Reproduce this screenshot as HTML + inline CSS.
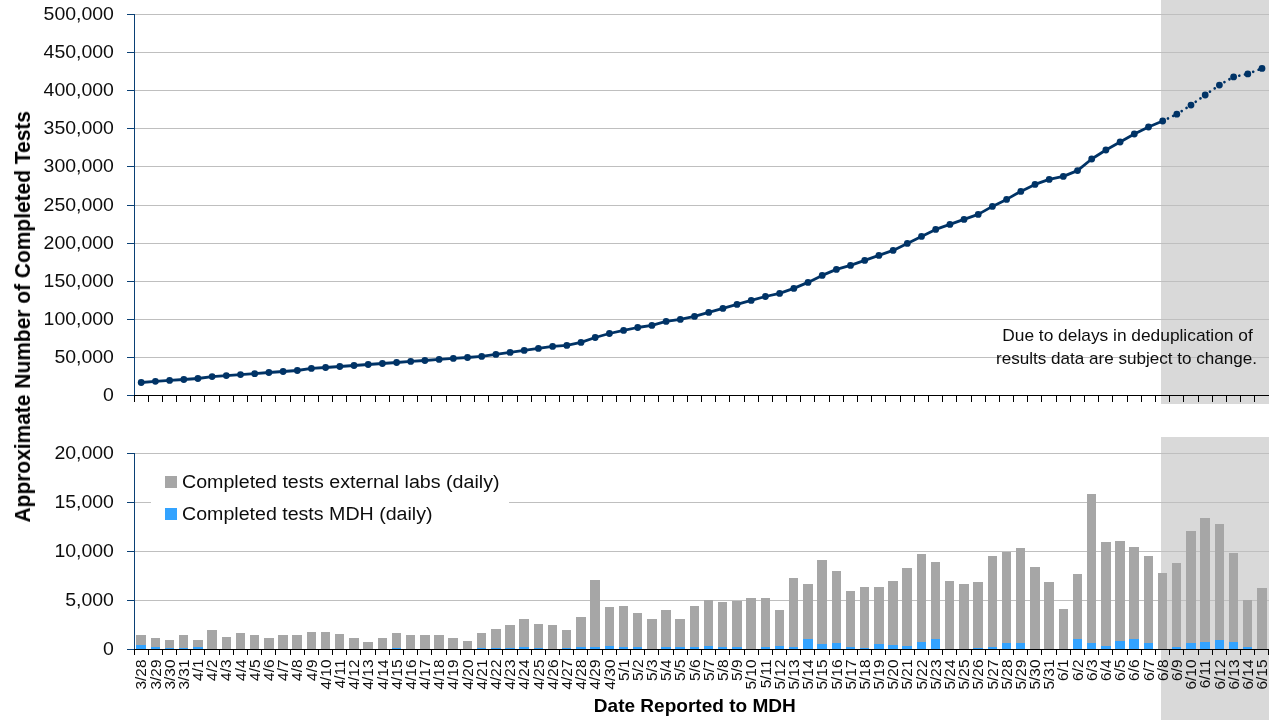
<!DOCTYPE html>
<html lang="en"><head><meta charset="utf-8">
<title>Approximate Number of Completed Tests by Date Reported to MDH</title>
<style>
html,body{margin:0;padding:0;background:#fff;}
body{width:1280px;height:720px;overflow:hidden;}
svg{display:block;}
text{font-family:"Liberation Sans", Arial, sans-serif;fill:#0d0d0d;}
.b{font-weight:bold;fill:#000;}
</style></head><body>
<svg width="1280" height="720" viewBox="0 0 1280 720">
<rect x="0" y="0" width="1280" height="720" fill="#ffffff"/>
<g shape-rendering="crispEdges">
<rect x="1161" y="0" width="108" height="404" fill="#d9d9d9"/>
<rect x="1161" y="437" width="108" height="283" fill="#d9d9d9"/>
<rect x="135" y="357" width="1134" height="1" fill="#bfbfbf"/>
<rect x="135" y="319" width="1134" height="1" fill="#bfbfbf"/>
<rect x="135" y="281" width="1134" height="1" fill="#bfbfbf"/>
<rect x="135" y="243" width="1134" height="1" fill="#bfbfbf"/>
<rect x="135" y="205" width="1134" height="1" fill="#bfbfbf"/>
<rect x="135" y="166" width="1134" height="1" fill="#bfbfbf"/>
<rect x="135" y="128" width="1134" height="1" fill="#bfbfbf"/>
<rect x="135" y="90" width="1134" height="1" fill="#bfbfbf"/>
<rect x="135" y="52" width="1134" height="1" fill="#bfbfbf"/>
<rect x="135" y="14" width="1134" height="1" fill="#bfbfbf"/>
<rect x="135" y="600" width="1134" height="1" fill="#bfbfbf"/>
<rect x="135" y="551" width="1134" height="1" fill="#bfbfbf"/>
<rect x="135" y="502" width="1134" height="1" fill="#bfbfbf"/>
<rect x="135" y="453" width="1134" height="1" fill="#bfbfbf"/>
<rect x="151" y="462" width="358" height="72" fill="#ffffff"/>
<rect x="136" y="635" width="10" height="10" fill="#a6a6a6"/>
<rect x="136" y="645" width="10" height="4" fill="#33a3ff"/>
<rect x="151" y="638" width="9" height="9" fill="#a6a6a6"/>
<rect x="151" y="647" width="9" height="2" fill="#33a3ff"/>
<rect x="165" y="640" width="9" height="8" fill="#a6a6a6"/>
<rect x="165" y="648" width="9" height="1" fill="#33a3ff"/>
<rect x="179" y="635" width="9" height="13" fill="#a6a6a6"/>
<rect x="179" y="648" width="9" height="1" fill="#33a3ff"/>
<rect x="193" y="640" width="10" height="7" fill="#a6a6a6"/>
<rect x="193" y="647" width="10" height="2" fill="#33a3ff"/>
<rect x="207" y="630" width="10" height="19" fill="#a6a6a6"/>
<rect x="222" y="637" width="9" height="12" fill="#a6a6a6"/>
<rect x="236" y="633" width="9" height="16" fill="#a6a6a6"/>
<rect x="250" y="635" width="9" height="14" fill="#a6a6a6"/>
<rect x="264" y="638" width="10" height="11" fill="#a6a6a6"/>
<rect x="278" y="635" width="10" height="14" fill="#a6a6a6"/>
<rect x="292" y="635" width="10" height="14" fill="#a6a6a6"/>
<rect x="307" y="632" width="9" height="17" fill="#a6a6a6"/>
<rect x="321" y="632" width="9" height="17" fill="#a6a6a6"/>
<rect x="335" y="634" width="9" height="15" fill="#a6a6a6"/>
<rect x="349" y="638" width="10" height="11" fill="#a6a6a6"/>
<rect x="363" y="642" width="10" height="7" fill="#a6a6a6"/>
<rect x="378" y="638" width="9" height="11" fill="#a6a6a6"/>
<rect x="392" y="633" width="9" height="15" fill="#a6a6a6"/>
<rect x="392" y="648" width="9" height="1" fill="#33a3ff"/>
<rect x="406" y="635" width="9" height="14" fill="#a6a6a6"/>
<rect x="420" y="635" width="10" height="14" fill="#a6a6a6"/>
<rect x="434" y="635" width="10" height="14" fill="#a6a6a6"/>
<rect x="448" y="638" width="10" height="11" fill="#a6a6a6"/>
<rect x="463" y="641" width="9" height="8" fill="#a6a6a6"/>
<rect x="477" y="633" width="9" height="15" fill="#a6a6a6"/>
<rect x="477" y="648" width="9" height="1" fill="#33a3ff"/>
<rect x="491" y="629" width="10" height="19" fill="#a6a6a6"/>
<rect x="491" y="648" width="10" height="1" fill="#33a3ff"/>
<rect x="505" y="625" width="10" height="23" fill="#a6a6a6"/>
<rect x="505" y="648" width="10" height="1" fill="#33a3ff"/>
<rect x="519" y="619" width="10" height="28" fill="#a6a6a6"/>
<rect x="519" y="647" width="10" height="2" fill="#33a3ff"/>
<rect x="534" y="624" width="9" height="24" fill="#a6a6a6"/>
<rect x="534" y="648" width="9" height="1" fill="#33a3ff"/>
<rect x="548" y="625" width="9" height="24" fill="#a6a6a6"/>
<rect x="562" y="630" width="9" height="18" fill="#a6a6a6"/>
<rect x="562" y="648" width="9" height="1" fill="#33a3ff"/>
<rect x="576" y="617" width="10" height="30" fill="#a6a6a6"/>
<rect x="576" y="647" width="10" height="2" fill="#33a3ff"/>
<rect x="590" y="580" width="10" height="67" fill="#a6a6a6"/>
<rect x="590" y="647" width="10" height="2" fill="#33a3ff"/>
<rect x="605" y="607" width="9" height="39" fill="#a6a6a6"/>
<rect x="605" y="646" width="9" height="3" fill="#33a3ff"/>
<rect x="619" y="606" width="9" height="41" fill="#a6a6a6"/>
<rect x="619" y="647" width="9" height="2" fill="#33a3ff"/>
<rect x="633" y="613" width="9" height="34" fill="#a6a6a6"/>
<rect x="633" y="647" width="9" height="2" fill="#33a3ff"/>
<rect x="647" y="619" width="10" height="30" fill="#a6a6a6"/>
<rect x="661" y="610" width="10" height="37" fill="#a6a6a6"/>
<rect x="661" y="647" width="10" height="2" fill="#33a3ff"/>
<rect x="675" y="619" width="10" height="28" fill="#a6a6a6"/>
<rect x="675" y="647" width="10" height="2" fill="#33a3ff"/>
<rect x="690" y="606" width="9" height="41" fill="#a6a6a6"/>
<rect x="690" y="647" width="9" height="2" fill="#33a3ff"/>
<rect x="704" y="600" width="9" height="46" fill="#a6a6a6"/>
<rect x="704" y="646" width="9" height="3" fill="#33a3ff"/>
<rect x="718" y="602" width="9" height="45" fill="#a6a6a6"/>
<rect x="718" y="647" width="9" height="2" fill="#33a3ff"/>
<rect x="732" y="601" width="10" height="46" fill="#a6a6a6"/>
<rect x="732" y="647" width="10" height="2" fill="#33a3ff"/>
<rect x="746" y="598" width="10" height="51" fill="#a6a6a6"/>
<rect x="761" y="598" width="9" height="49" fill="#a6a6a6"/>
<rect x="761" y="647" width="9" height="2" fill="#33a3ff"/>
<rect x="775" y="610" width="9" height="36" fill="#a6a6a6"/>
<rect x="775" y="646" width="9" height="3" fill="#33a3ff"/>
<rect x="789" y="578" width="9" height="69" fill="#a6a6a6"/>
<rect x="789" y="647" width="9" height="2" fill="#33a3ff"/>
<rect x="803" y="584" width="10" height="55" fill="#a6a6a6"/>
<rect x="803" y="639" width="10" height="10" fill="#33a3ff"/>
<rect x="817" y="560" width="10" height="84" fill="#a6a6a6"/>
<rect x="817" y="644" width="10" height="5" fill="#33a3ff"/>
<rect x="832" y="571" width="9" height="72" fill="#a6a6a6"/>
<rect x="832" y="643" width="9" height="6" fill="#33a3ff"/>
<rect x="846" y="591" width="9" height="56" fill="#a6a6a6"/>
<rect x="846" y="647" width="9" height="2" fill="#33a3ff"/>
<rect x="860" y="587" width="9" height="61" fill="#a6a6a6"/>
<rect x="860" y="648" width="9" height="1" fill="#33a3ff"/>
<rect x="874" y="587" width="10" height="57" fill="#a6a6a6"/>
<rect x="874" y="644" width="10" height="5" fill="#33a3ff"/>
<rect x="888" y="581" width="10" height="64" fill="#a6a6a6"/>
<rect x="888" y="645" width="10" height="4" fill="#33a3ff"/>
<rect x="902" y="568" width="10" height="78" fill="#a6a6a6"/>
<rect x="902" y="646" width="10" height="3" fill="#33a3ff"/>
<rect x="917" y="554" width="9" height="88" fill="#a6a6a6"/>
<rect x="917" y="642" width="9" height="7" fill="#33a3ff"/>
<rect x="931" y="562" width="9" height="77" fill="#a6a6a6"/>
<rect x="931" y="639" width="9" height="10" fill="#33a3ff"/>
<rect x="945" y="581" width="9" height="68" fill="#a6a6a6"/>
<rect x="959" y="584" width="10" height="65" fill="#a6a6a6"/>
<rect x="973" y="582" width="10" height="66" fill="#a6a6a6"/>
<rect x="973" y="648" width="10" height="1" fill="#33a3ff"/>
<rect x="988" y="556" width="9" height="91" fill="#a6a6a6"/>
<rect x="988" y="647" width="9" height="2" fill="#33a3ff"/>
<rect x="1002" y="552" width="9" height="91" fill="#a6a6a6"/>
<rect x="1002" y="643" width="9" height="6" fill="#33a3ff"/>
<rect x="1016" y="548" width="9" height="95" fill="#a6a6a6"/>
<rect x="1016" y="643" width="9" height="6" fill="#33a3ff"/>
<rect x="1030" y="567" width="10" height="82" fill="#a6a6a6"/>
<rect x="1044" y="582" width="10" height="67" fill="#a6a6a6"/>
<rect x="1059" y="609" width="9" height="40" fill="#a6a6a6"/>
<rect x="1073" y="574" width="9" height="65" fill="#a6a6a6"/>
<rect x="1073" y="639" width="9" height="10" fill="#33a3ff"/>
<rect x="1087" y="494" width="9" height="149" fill="#a6a6a6"/>
<rect x="1087" y="643" width="9" height="6" fill="#33a3ff"/>
<rect x="1101" y="542" width="10" height="104" fill="#a6a6a6"/>
<rect x="1101" y="646" width="10" height="3" fill="#33a3ff"/>
<rect x="1115" y="541" width="10" height="100" fill="#a6a6a6"/>
<rect x="1115" y="641" width="10" height="8" fill="#33a3ff"/>
<rect x="1129" y="547" width="10" height="92" fill="#a6a6a6"/>
<rect x="1129" y="639" width="10" height="10" fill="#33a3ff"/>
<rect x="1144" y="556" width="9" height="87" fill="#a6a6a6"/>
<rect x="1144" y="643" width="9" height="6" fill="#33a3ff"/>
<rect x="1158" y="573" width="9" height="76" fill="#a6a6a6"/>
<rect x="1172" y="563" width="9" height="84" fill="#a6a6a6"/>
<rect x="1172" y="647" width="9" height="2" fill="#33a3ff"/>
<rect x="1186" y="531" width="10" height="112" fill="#a6a6a6"/>
<rect x="1186" y="643" width="10" height="6" fill="#33a3ff"/>
<rect x="1200" y="518" width="10" height="124" fill="#a6a6a6"/>
<rect x="1200" y="642" width="10" height="7" fill="#33a3ff"/>
<rect x="1215" y="524" width="9" height="116" fill="#a6a6a6"/>
<rect x="1215" y="640" width="9" height="9" fill="#33a3ff"/>
<rect x="1229" y="553" width="9" height="89" fill="#a6a6a6"/>
<rect x="1229" y="642" width="9" height="7" fill="#33a3ff"/>
<rect x="1243" y="600" width="9" height="47" fill="#a6a6a6"/>
<rect x="1243" y="647" width="9" height="2" fill="#33a3ff"/>
<rect x="1257" y="588" width="10" height="61" fill="#a6a6a6"/>
<rect x="165" y="476" width="12" height="12" fill="#a6a6a6"/>
<rect x="165" y="508" width="12" height="12" fill="#33a3ff"/>
<rect x="134" y="14" width="1" height="382" fill="#0a4075"/>
<rect x="127" y="395" width="8" height="1" fill="#0a4075"/>
<rect x="127" y="357" width="8" height="1" fill="#0a4075"/>
<rect x="127" y="319" width="8" height="1" fill="#0a4075"/>
<rect x="127" y="281" width="8" height="1" fill="#0a4075"/>
<rect x="127" y="243" width="8" height="1" fill="#0a4075"/>
<rect x="127" y="205" width="8" height="1" fill="#0a4075"/>
<rect x="127" y="166" width="8" height="1" fill="#0a4075"/>
<rect x="127" y="128" width="8" height="1" fill="#0a4075"/>
<rect x="127" y="90" width="8" height="1" fill="#0a4075"/>
<rect x="127" y="52" width="8" height="1" fill="#0a4075"/>
<rect x="127" y="14" width="8" height="1" fill="#0a4075"/>
<rect x="134" y="453" width="1" height="197" fill="#0a4075"/>
<rect x="127" y="649" width="8" height="1" fill="#0a4075"/>
<rect x="127" y="600" width="8" height="1" fill="#0a4075"/>
<rect x="127" y="551" width="8" height="1" fill="#0a4075"/>
<rect x="127" y="502" width="8" height="1" fill="#0a4075"/>
<rect x="127" y="453" width="8" height="1" fill="#0a4075"/>
<rect x="134" y="395" width="1135" height="1" fill="#000"/>
<rect x="134" y="649" width="1135" height="1" fill="#000"/>
<rect x="134" y="396" width="1" height="6" fill="#000"/>
<rect x="134" y="650" width="1" height="5" fill="#000"/>
<rect x="148" y="396" width="1" height="6" fill="#000"/>
<rect x="148" y="650" width="1" height="5" fill="#000"/>
<rect x="162" y="396" width="1" height="6" fill="#000"/>
<rect x="162" y="650" width="1" height="5" fill="#000"/>
<rect x="176" y="396" width="1" height="6" fill="#000"/>
<rect x="176" y="650" width="1" height="5" fill="#000"/>
<rect x="190" y="396" width="1" height="6" fill="#000"/>
<rect x="190" y="650" width="1" height="5" fill="#000"/>
<rect x="204" y="396" width="1" height="6" fill="#000"/>
<rect x="204" y="650" width="1" height="5" fill="#000"/>
<rect x="219" y="396" width="1" height="6" fill="#000"/>
<rect x="219" y="650" width="1" height="5" fill="#000"/>
<rect x="233" y="396" width="1" height="6" fill="#000"/>
<rect x="233" y="650" width="1" height="5" fill="#000"/>
<rect x="247" y="396" width="1" height="6" fill="#000"/>
<rect x="247" y="650" width="1" height="5" fill="#000"/>
<rect x="261" y="396" width="1" height="6" fill="#000"/>
<rect x="261" y="650" width="1" height="5" fill="#000"/>
<rect x="275" y="396" width="1" height="6" fill="#000"/>
<rect x="275" y="650" width="1" height="5" fill="#000"/>
<rect x="290" y="396" width="1" height="6" fill="#000"/>
<rect x="290" y="650" width="1" height="5" fill="#000"/>
<rect x="304" y="396" width="1" height="6" fill="#000"/>
<rect x="304" y="650" width="1" height="5" fill="#000"/>
<rect x="318" y="396" width="1" height="6" fill="#000"/>
<rect x="318" y="650" width="1" height="5" fill="#000"/>
<rect x="332" y="396" width="1" height="6" fill="#000"/>
<rect x="332" y="650" width="1" height="5" fill="#000"/>
<rect x="346" y="396" width="1" height="6" fill="#000"/>
<rect x="346" y="650" width="1" height="5" fill="#000"/>
<rect x="360" y="396" width="1" height="6" fill="#000"/>
<rect x="360" y="650" width="1" height="5" fill="#000"/>
<rect x="375" y="396" width="1" height="6" fill="#000"/>
<rect x="375" y="650" width="1" height="5" fill="#000"/>
<rect x="389" y="396" width="1" height="6" fill="#000"/>
<rect x="389" y="650" width="1" height="5" fill="#000"/>
<rect x="403" y="396" width="1" height="6" fill="#000"/>
<rect x="403" y="650" width="1" height="5" fill="#000"/>
<rect x="417" y="396" width="1" height="6" fill="#000"/>
<rect x="417" y="650" width="1" height="5" fill="#000"/>
<rect x="431" y="396" width="1" height="6" fill="#000"/>
<rect x="431" y="650" width="1" height="5" fill="#000"/>
<rect x="446" y="396" width="1" height="6" fill="#000"/>
<rect x="446" y="650" width="1" height="5" fill="#000"/>
<rect x="460" y="396" width="1" height="6" fill="#000"/>
<rect x="460" y="650" width="1" height="5" fill="#000"/>
<rect x="474" y="396" width="1" height="6" fill="#000"/>
<rect x="474" y="650" width="1" height="5" fill="#000"/>
<rect x="488" y="396" width="1" height="6" fill="#000"/>
<rect x="488" y="650" width="1" height="5" fill="#000"/>
<rect x="502" y="396" width="1" height="6" fill="#000"/>
<rect x="502" y="650" width="1" height="5" fill="#000"/>
<rect x="517" y="396" width="1" height="6" fill="#000"/>
<rect x="517" y="650" width="1" height="5" fill="#000"/>
<rect x="531" y="396" width="1" height="6" fill="#000"/>
<rect x="531" y="650" width="1" height="5" fill="#000"/>
<rect x="545" y="396" width="1" height="6" fill="#000"/>
<rect x="545" y="650" width="1" height="5" fill="#000"/>
<rect x="559" y="396" width="1" height="6" fill="#000"/>
<rect x="559" y="650" width="1" height="5" fill="#000"/>
<rect x="573" y="396" width="1" height="6" fill="#000"/>
<rect x="573" y="650" width="1" height="5" fill="#000"/>
<rect x="587" y="396" width="1" height="6" fill="#000"/>
<rect x="587" y="650" width="1" height="5" fill="#000"/>
<rect x="602" y="396" width="1" height="6" fill="#000"/>
<rect x="602" y="650" width="1" height="5" fill="#000"/>
<rect x="616" y="396" width="1" height="6" fill="#000"/>
<rect x="616" y="650" width="1" height="5" fill="#000"/>
<rect x="630" y="396" width="1" height="6" fill="#000"/>
<rect x="630" y="650" width="1" height="5" fill="#000"/>
<rect x="644" y="396" width="1" height="6" fill="#000"/>
<rect x="644" y="650" width="1" height="5" fill="#000"/>
<rect x="658" y="396" width="1" height="6" fill="#000"/>
<rect x="658" y="650" width="1" height="5" fill="#000"/>
<rect x="673" y="396" width="1" height="6" fill="#000"/>
<rect x="673" y="650" width="1" height="5" fill="#000"/>
<rect x="687" y="396" width="1" height="6" fill="#000"/>
<rect x="687" y="650" width="1" height="5" fill="#000"/>
<rect x="701" y="396" width="1" height="6" fill="#000"/>
<rect x="701" y="650" width="1" height="5" fill="#000"/>
<rect x="715" y="396" width="1" height="6" fill="#000"/>
<rect x="715" y="650" width="1" height="5" fill="#000"/>
<rect x="729" y="396" width="1" height="6" fill="#000"/>
<rect x="729" y="650" width="1" height="5" fill="#000"/>
<rect x="744" y="396" width="1" height="6" fill="#000"/>
<rect x="744" y="650" width="1" height="5" fill="#000"/>
<rect x="758" y="396" width="1" height="6" fill="#000"/>
<rect x="758" y="650" width="1" height="5" fill="#000"/>
<rect x="772" y="396" width="1" height="6" fill="#000"/>
<rect x="772" y="650" width="1" height="5" fill="#000"/>
<rect x="786" y="396" width="1" height="6" fill="#000"/>
<rect x="786" y="650" width="1" height="5" fill="#000"/>
<rect x="800" y="396" width="1" height="6" fill="#000"/>
<rect x="800" y="650" width="1" height="5" fill="#000"/>
<rect x="814" y="396" width="1" height="6" fill="#000"/>
<rect x="814" y="650" width="1" height="5" fill="#000"/>
<rect x="829" y="396" width="1" height="6" fill="#000"/>
<rect x="829" y="650" width="1" height="5" fill="#000"/>
<rect x="843" y="396" width="1" height="6" fill="#000"/>
<rect x="843" y="650" width="1" height="5" fill="#000"/>
<rect x="857" y="396" width="1" height="6" fill="#000"/>
<rect x="857" y="650" width="1" height="5" fill="#000"/>
<rect x="871" y="396" width="1" height="6" fill="#000"/>
<rect x="871" y="650" width="1" height="5" fill="#000"/>
<rect x="885" y="396" width="1" height="6" fill="#000"/>
<rect x="885" y="650" width="1" height="5" fill="#000"/>
<rect x="900" y="396" width="1" height="6" fill="#000"/>
<rect x="900" y="650" width="1" height="5" fill="#000"/>
<rect x="914" y="396" width="1" height="6" fill="#000"/>
<rect x="914" y="650" width="1" height="5" fill="#000"/>
<rect x="928" y="396" width="1" height="6" fill="#000"/>
<rect x="928" y="650" width="1" height="5" fill="#000"/>
<rect x="942" y="396" width="1" height="6" fill="#000"/>
<rect x="942" y="650" width="1" height="5" fill="#000"/>
<rect x="956" y="396" width="1" height="6" fill="#000"/>
<rect x="956" y="650" width="1" height="5" fill="#000"/>
<rect x="971" y="396" width="1" height="6" fill="#000"/>
<rect x="971" y="650" width="1" height="5" fill="#000"/>
<rect x="985" y="396" width="1" height="6" fill="#000"/>
<rect x="985" y="650" width="1" height="5" fill="#000"/>
<rect x="999" y="396" width="1" height="6" fill="#000"/>
<rect x="999" y="650" width="1" height="5" fill="#000"/>
<rect x="1013" y="396" width="1" height="6" fill="#000"/>
<rect x="1013" y="650" width="1" height="5" fill="#000"/>
<rect x="1027" y="396" width="1" height="6" fill="#000"/>
<rect x="1027" y="650" width="1" height="5" fill="#000"/>
<rect x="1041" y="396" width="1" height="6" fill="#000"/>
<rect x="1041" y="650" width="1" height="5" fill="#000"/>
<rect x="1056" y="396" width="1" height="6" fill="#000"/>
<rect x="1056" y="650" width="1" height="5" fill="#000"/>
<rect x="1070" y="396" width="1" height="6" fill="#000"/>
<rect x="1070" y="650" width="1" height="5" fill="#000"/>
<rect x="1084" y="396" width="1" height="6" fill="#000"/>
<rect x="1084" y="650" width="1" height="5" fill="#000"/>
<rect x="1098" y="396" width="1" height="6" fill="#000"/>
<rect x="1098" y="650" width="1" height="5" fill="#000"/>
<rect x="1112" y="396" width="1" height="6" fill="#000"/>
<rect x="1112" y="650" width="1" height="5" fill="#000"/>
<rect x="1127" y="396" width="1" height="6" fill="#000"/>
<rect x="1127" y="650" width="1" height="5" fill="#000"/>
<rect x="1141" y="396" width="1" height="6" fill="#000"/>
<rect x="1141" y="650" width="1" height="5" fill="#000"/>
<rect x="1155" y="396" width="1" height="6" fill="#000"/>
<rect x="1155" y="650" width="1" height="5" fill="#000"/>
<rect x="1169" y="396" width="1" height="6" fill="#000"/>
<rect x="1169" y="650" width="1" height="5" fill="#000"/>
<rect x="1183" y="396" width="1" height="6" fill="#000"/>
<rect x="1183" y="650" width="1" height="5" fill="#000"/>
<rect x="1198" y="396" width="1" height="6" fill="#000"/>
<rect x="1198" y="650" width="1" height="5" fill="#000"/>
<rect x="1212" y="396" width="1" height="6" fill="#000"/>
<rect x="1212" y="650" width="1" height="5" fill="#000"/>
<rect x="1226" y="396" width="1" height="6" fill="#000"/>
<rect x="1226" y="650" width="1" height="5" fill="#000"/>
<rect x="1240" y="396" width="1" height="6" fill="#000"/>
<rect x="1240" y="650" width="1" height="5" fill="#000"/>
<rect x="1254" y="396" width="1" height="6" fill="#000"/>
<rect x="1254" y="650" width="1" height="5" fill="#000"/>
<rect x="1268" y="650" width="1" height="5" fill="#000"/>
</g>
<polyline points="141.2,382.5 155.4,381.3 169.6,380.4 183.8,379.5 197.9,378.5 212.1,376.6 226.3,375.6 240.5,374.6 254.7,373.7 268.9,372.5 283.1,371.5 297.3,370.5 311.4,368.4 325.6,367.5 339.8,366.5 354.0,365.5 368.2,364.5 382.4,363.5 396.6,362.5 410.7,361.4 424.9,360.5 439.1,359.4 453.3,358.4 467.5,357.5 481.7,356.4 495.9,354.4 510.1,352.4 524.2,350.4 538.4,348.4 552.6,346.4 566.8,345.4 581.0,342.4 595.2,337.5 609.4,333.5 623.6,330.4 637.7,327.5 651.9,325.4 666.1,321.4 680.3,319.4 694.5,316.4 708.7,312.4 722.9,308.4 737.0,304.4 751.2,300.4 765.4,296.5 779.6,293.4 793.8,288.4 808.0,282.4 822.2,275.4 836.4,269.4 850.5,265.4 864.7,260.4 878.9,255.4 893.1,250.4 907.3,243.4 921.5,236.4 935.7,229.4 949.9,224.4 964.0,219.4 978.2,214.4 992.4,206.4 1006.6,199.4 1020.8,191.4 1035.0,184.4 1049.2,179.4 1063.3,176.4 1077.5,170.6 1091.7,159.0 1105.9,150.0 1120.1,142.0 1134.3,134.0 1148.5,127.0 1162.7,121.0" fill="none" stroke="#003366" stroke-width="2.8" stroke-linejoin="round" stroke-linecap="round"/>
<line x1="1162.7" y1="121.0" x2="1176.8" y2="114.2" stroke="#003366" stroke-width="2.7" stroke-linecap="round" stroke-dasharray="0.01 5.8"/>
<line x1="1176.8" y1="114.2" x2="1191.0" y2="105.1" stroke="#003366" stroke-width="2.7" stroke-linecap="round" stroke-dasharray="0.01 5.8"/>
<line x1="1191.0" y1="105.1" x2="1205.2" y2="95.0" stroke="#003366" stroke-width="2.7" stroke-linecap="round" stroke-dasharray="0.01 5.8"/>
<line x1="1205.2" y1="95.0" x2="1219.4" y2="85.1" stroke="#003366" stroke-width="2.7" stroke-linecap="round" stroke-dasharray="0.01 5.8"/>
<line x1="1219.4" y1="85.1" x2="1233.6" y2="76.9" stroke="#003366" stroke-width="2.7" stroke-linecap="round" stroke-dasharray="0.01 5.8"/>
<line x1="1233.6" y1="76.9" x2="1247.8" y2="73.9" stroke="#003366" stroke-width="2.7" stroke-linecap="round" stroke-dasharray="0.01 5.8"/>
<line x1="1247.8" y1="73.9" x2="1262.0" y2="68.4" stroke="#003366" stroke-width="2.7" stroke-linecap="round" stroke-dasharray="0.01 5.8"/>
<circle cx="141.2" cy="382.5" r="3.4" fill="#003366"/>
<circle cx="155.4" cy="381.3" r="3.4" fill="#003366"/>
<circle cx="169.6" cy="380.4" r="3.4" fill="#003366"/>
<circle cx="183.8" cy="379.5" r="3.4" fill="#003366"/>
<circle cx="197.9" cy="378.5" r="3.4" fill="#003366"/>
<circle cx="212.1" cy="376.6" r="3.4" fill="#003366"/>
<circle cx="226.3" cy="375.6" r="3.4" fill="#003366"/>
<circle cx="240.5" cy="374.6" r="3.4" fill="#003366"/>
<circle cx="254.7" cy="373.7" r="3.4" fill="#003366"/>
<circle cx="268.9" cy="372.5" r="3.4" fill="#003366"/>
<circle cx="283.1" cy="371.5" r="3.4" fill="#003366"/>
<circle cx="297.3" cy="370.5" r="3.4" fill="#003366"/>
<circle cx="311.4" cy="368.4" r="3.4" fill="#003366"/>
<circle cx="325.6" cy="367.5" r="3.4" fill="#003366"/>
<circle cx="339.8" cy="366.5" r="3.4" fill="#003366"/>
<circle cx="354.0" cy="365.5" r="3.4" fill="#003366"/>
<circle cx="368.2" cy="364.5" r="3.4" fill="#003366"/>
<circle cx="382.4" cy="363.5" r="3.4" fill="#003366"/>
<circle cx="396.6" cy="362.5" r="3.4" fill="#003366"/>
<circle cx="410.7" cy="361.4" r="3.4" fill="#003366"/>
<circle cx="424.9" cy="360.5" r="3.4" fill="#003366"/>
<circle cx="439.1" cy="359.4" r="3.4" fill="#003366"/>
<circle cx="453.3" cy="358.4" r="3.4" fill="#003366"/>
<circle cx="467.5" cy="357.5" r="3.4" fill="#003366"/>
<circle cx="481.7" cy="356.4" r="3.4" fill="#003366"/>
<circle cx="495.9" cy="354.4" r="3.4" fill="#003366"/>
<circle cx="510.1" cy="352.4" r="3.4" fill="#003366"/>
<circle cx="524.2" cy="350.4" r="3.4" fill="#003366"/>
<circle cx="538.4" cy="348.4" r="3.4" fill="#003366"/>
<circle cx="552.6" cy="346.4" r="3.4" fill="#003366"/>
<circle cx="566.8" cy="345.4" r="3.4" fill="#003366"/>
<circle cx="581.0" cy="342.4" r="3.4" fill="#003366"/>
<circle cx="595.2" cy="337.5" r="3.4" fill="#003366"/>
<circle cx="609.4" cy="333.5" r="3.4" fill="#003366"/>
<circle cx="623.6" cy="330.4" r="3.4" fill="#003366"/>
<circle cx="637.7" cy="327.5" r="3.4" fill="#003366"/>
<circle cx="651.9" cy="325.4" r="3.4" fill="#003366"/>
<circle cx="666.1" cy="321.4" r="3.4" fill="#003366"/>
<circle cx="680.3" cy="319.4" r="3.4" fill="#003366"/>
<circle cx="694.5" cy="316.4" r="3.4" fill="#003366"/>
<circle cx="708.7" cy="312.4" r="3.4" fill="#003366"/>
<circle cx="722.9" cy="308.4" r="3.4" fill="#003366"/>
<circle cx="737.0" cy="304.4" r="3.4" fill="#003366"/>
<circle cx="751.2" cy="300.4" r="3.4" fill="#003366"/>
<circle cx="765.4" cy="296.5" r="3.4" fill="#003366"/>
<circle cx="779.6" cy="293.4" r="3.4" fill="#003366"/>
<circle cx="793.8" cy="288.4" r="3.4" fill="#003366"/>
<circle cx="808.0" cy="282.4" r="3.4" fill="#003366"/>
<circle cx="822.2" cy="275.4" r="3.4" fill="#003366"/>
<circle cx="836.4" cy="269.4" r="3.4" fill="#003366"/>
<circle cx="850.5" cy="265.4" r="3.4" fill="#003366"/>
<circle cx="864.7" cy="260.4" r="3.4" fill="#003366"/>
<circle cx="878.9" cy="255.4" r="3.4" fill="#003366"/>
<circle cx="893.1" cy="250.4" r="3.4" fill="#003366"/>
<circle cx="907.3" cy="243.4" r="3.4" fill="#003366"/>
<circle cx="921.5" cy="236.4" r="3.4" fill="#003366"/>
<circle cx="935.7" cy="229.4" r="3.4" fill="#003366"/>
<circle cx="949.9" cy="224.4" r="3.4" fill="#003366"/>
<circle cx="964.0" cy="219.4" r="3.4" fill="#003366"/>
<circle cx="978.2" cy="214.4" r="3.4" fill="#003366"/>
<circle cx="992.4" cy="206.4" r="3.4" fill="#003366"/>
<circle cx="1006.6" cy="199.4" r="3.4" fill="#003366"/>
<circle cx="1020.8" cy="191.4" r="3.4" fill="#003366"/>
<circle cx="1035.0" cy="184.4" r="3.4" fill="#003366"/>
<circle cx="1049.2" cy="179.4" r="3.4" fill="#003366"/>
<circle cx="1063.3" cy="176.4" r="3.4" fill="#003366"/>
<circle cx="1077.5" cy="170.6" r="3.4" fill="#003366"/>
<circle cx="1091.7" cy="159.0" r="3.4" fill="#003366"/>
<circle cx="1105.9" cy="150.0" r="3.4" fill="#003366"/>
<circle cx="1120.1" cy="142.0" r="3.4" fill="#003366"/>
<circle cx="1134.3" cy="134.0" r="3.4" fill="#003366"/>
<circle cx="1148.5" cy="127.0" r="3.4" fill="#003366"/>
<circle cx="1162.7" cy="121.0" r="3.4" fill="#003366"/>
<circle cx="1176.8" cy="114.2" r="3.4" fill="#003366"/>
<circle cx="1191.0" cy="105.1" r="3.4" fill="#003366"/>
<circle cx="1205.2" cy="95.0" r="3.4" fill="#003366"/>
<circle cx="1219.4" cy="85.1" r="3.4" fill="#003366"/>
<circle cx="1233.6" cy="76.9" r="3.4" fill="#003366"/>
<circle cx="1247.8" cy="73.9" r="3.4" fill="#003366"/>
<circle cx="1262.0" cy="68.4" r="3.4" fill="#003366"/>
<g opacity="0.999">
<text transform="translate(113.9,401.4) scale(1.025,1)" font-size="19" text-anchor="end">0</text>
<text transform="translate(113.9,363.4) scale(1.025,1)" font-size="19" text-anchor="end">50,000</text>
<text transform="translate(113.9,325.4) scale(1.025,1)" font-size="19" text-anchor="end">100,000</text>
<text transform="translate(113.9,287.4) scale(1.025,1)" font-size="19" text-anchor="end">150,000</text>
<text transform="translate(113.9,249.4) scale(1.025,1)" font-size="19" text-anchor="end">200,000</text>
<text transform="translate(113.9,211.4) scale(1.025,1)" font-size="19" text-anchor="end">250,000</text>
<text transform="translate(113.9,172.4) scale(1.025,1)" font-size="19" text-anchor="end">300,000</text>
<text transform="translate(113.9,134.4) scale(1.025,1)" font-size="19" text-anchor="end">350,000</text>
<text transform="translate(113.9,96.4) scale(1.025,1)" font-size="19" text-anchor="end">400,000</text>
<text transform="translate(113.9,58.4) scale(1.025,1)" font-size="19" text-anchor="end">450,000</text>
<text transform="translate(113.9,20.4) scale(1.025,1)" font-size="19" text-anchor="end">500,000</text>
<text transform="translate(113.9,655.4) scale(1.025,1)" font-size="19" text-anchor="end">0</text>
<text transform="translate(113.9,606.4) scale(1.025,1)" font-size="19" text-anchor="end">5,000</text>
<text transform="translate(113.9,557.4) scale(1.025,1)" font-size="19" text-anchor="end">10,000</text>
<text transform="translate(113.9,508.4) scale(1.025,1)" font-size="19" text-anchor="end">15,000</text>
<text transform="translate(113.9,459.4) scale(1.025,1)" font-size="19" text-anchor="end">20,000</text>
<text transform="translate(146.3,659.5) rotate(-90) scale(1.07,1)" font-size="14.4" text-anchor="end">3/28</text>
<text transform="translate(160.5,659.5) rotate(-90) scale(1.07,1)" font-size="14.4" text-anchor="end">3/29</text>
<text transform="translate(174.7,659.5) rotate(-90) scale(1.07,1)" font-size="14.4" text-anchor="end">3/30</text>
<text transform="translate(188.9,659.5) rotate(-90) scale(1.07,1)" font-size="14.4" text-anchor="end">3/31</text>
<text transform="translate(203.0,659.5) rotate(-90) scale(1.07,1)" font-size="14.4" text-anchor="end">4/1</text>
<text transform="translate(217.2,659.5) rotate(-90) scale(1.07,1)" font-size="14.4" text-anchor="end">4/2</text>
<text transform="translate(231.4,659.5) rotate(-90) scale(1.07,1)" font-size="14.4" text-anchor="end">4/3</text>
<text transform="translate(245.6,659.5) rotate(-90) scale(1.07,1)" font-size="14.4" text-anchor="end">4/4</text>
<text transform="translate(259.8,659.5) rotate(-90) scale(1.07,1)" font-size="14.4" text-anchor="end">4/5</text>
<text transform="translate(274.0,659.5) rotate(-90) scale(1.07,1)" font-size="14.4" text-anchor="end">4/6</text>
<text transform="translate(288.2,659.5) rotate(-90) scale(1.07,1)" font-size="14.4" text-anchor="end">4/7</text>
<text transform="translate(302.4,659.5) rotate(-90) scale(1.07,1)" font-size="14.4" text-anchor="end">4/8</text>
<text transform="translate(316.5,659.5) rotate(-90) scale(1.07,1)" font-size="14.4" text-anchor="end">4/9</text>
<text transform="translate(330.7,659.5) rotate(-90) scale(1.07,1)" font-size="14.4" text-anchor="end">4/10</text>
<text transform="translate(344.9,659.5) rotate(-90) scale(1.07,1)" font-size="14.4" text-anchor="end">4/11</text>
<text transform="translate(359.1,659.5) rotate(-90) scale(1.07,1)" font-size="14.4" text-anchor="end">4/12</text>
<text transform="translate(373.3,659.5) rotate(-90) scale(1.07,1)" font-size="14.4" text-anchor="end">4/13</text>
<text transform="translate(387.5,659.5) rotate(-90) scale(1.07,1)" font-size="14.4" text-anchor="end">4/14</text>
<text transform="translate(401.7,659.5) rotate(-90) scale(1.07,1)" font-size="14.4" text-anchor="end">4/15</text>
<text transform="translate(415.8,659.5) rotate(-90) scale(1.07,1)" font-size="14.4" text-anchor="end">4/16</text>
<text transform="translate(430.0,659.5) rotate(-90) scale(1.07,1)" font-size="14.4" text-anchor="end">4/17</text>
<text transform="translate(444.2,659.5) rotate(-90) scale(1.07,1)" font-size="14.4" text-anchor="end">4/18</text>
<text transform="translate(458.4,659.5) rotate(-90) scale(1.07,1)" font-size="14.4" text-anchor="end">4/19</text>
<text transform="translate(472.6,659.5) rotate(-90) scale(1.07,1)" font-size="14.4" text-anchor="end">4/20</text>
<text transform="translate(486.8,659.5) rotate(-90) scale(1.07,1)" font-size="14.4" text-anchor="end">4/21</text>
<text transform="translate(501.0,659.5) rotate(-90) scale(1.07,1)" font-size="14.4" text-anchor="end">4/22</text>
<text transform="translate(515.2,659.5) rotate(-90) scale(1.07,1)" font-size="14.4" text-anchor="end">4/23</text>
<text transform="translate(529.3,659.5) rotate(-90) scale(1.07,1)" font-size="14.4" text-anchor="end">4/24</text>
<text transform="translate(543.5,659.5) rotate(-90) scale(1.07,1)" font-size="14.4" text-anchor="end">4/25</text>
<text transform="translate(557.7,659.5) rotate(-90) scale(1.07,1)" font-size="14.4" text-anchor="end">4/26</text>
<text transform="translate(571.9,659.5) rotate(-90) scale(1.07,1)" font-size="14.4" text-anchor="end">4/27</text>
<text transform="translate(586.1,659.5) rotate(-90) scale(1.07,1)" font-size="14.4" text-anchor="end">4/28</text>
<text transform="translate(600.3,659.5) rotate(-90) scale(1.07,1)" font-size="14.4" text-anchor="end">4/29</text>
<text transform="translate(614.5,659.5) rotate(-90) scale(1.07,1)" font-size="14.4" text-anchor="end">4/30</text>
<text transform="translate(628.7,659.5) rotate(-90) scale(1.07,1)" font-size="14.4" text-anchor="end">5/1</text>
<text transform="translate(642.8,659.5) rotate(-90) scale(1.07,1)" font-size="14.4" text-anchor="end">5/2</text>
<text transform="translate(657.0,659.5) rotate(-90) scale(1.07,1)" font-size="14.4" text-anchor="end">5/3</text>
<text transform="translate(671.2,659.5) rotate(-90) scale(1.07,1)" font-size="14.4" text-anchor="end">5/4</text>
<text transform="translate(685.4,659.5) rotate(-90) scale(1.07,1)" font-size="14.4" text-anchor="end">5/5</text>
<text transform="translate(699.6,659.5) rotate(-90) scale(1.07,1)" font-size="14.4" text-anchor="end">5/6</text>
<text transform="translate(713.8,659.5) rotate(-90) scale(1.07,1)" font-size="14.4" text-anchor="end">5/7</text>
<text transform="translate(728.0,659.5) rotate(-90) scale(1.07,1)" font-size="14.4" text-anchor="end">5/8</text>
<text transform="translate(742.1,659.5) rotate(-90) scale(1.07,1)" font-size="14.4" text-anchor="end">5/9</text>
<text transform="translate(756.3,659.5) rotate(-90) scale(1.07,1)" font-size="14.4" text-anchor="end">5/10</text>
<text transform="translate(770.5,659.5) rotate(-90) scale(1.07,1)" font-size="14.4" text-anchor="end">5/11</text>
<text transform="translate(784.7,659.5) rotate(-90) scale(1.07,1)" font-size="14.4" text-anchor="end">5/12</text>
<text transform="translate(798.9,659.5) rotate(-90) scale(1.07,1)" font-size="14.4" text-anchor="end">5/13</text>
<text transform="translate(813.1,659.5) rotate(-90) scale(1.07,1)" font-size="14.4" text-anchor="end">5/14</text>
<text transform="translate(827.3,659.5) rotate(-90) scale(1.07,1)" font-size="14.4" text-anchor="end">5/15</text>
<text transform="translate(841.5,659.5) rotate(-90) scale(1.07,1)" font-size="14.4" text-anchor="end">5/16</text>
<text transform="translate(855.6,659.5) rotate(-90) scale(1.07,1)" font-size="14.4" text-anchor="end">5/17</text>
<text transform="translate(869.8,659.5) rotate(-90) scale(1.07,1)" font-size="14.4" text-anchor="end">5/18</text>
<text transform="translate(884.0,659.5) rotate(-90) scale(1.07,1)" font-size="14.4" text-anchor="end">5/19</text>
<text transform="translate(898.2,659.5) rotate(-90) scale(1.07,1)" font-size="14.4" text-anchor="end">5/20</text>
<text transform="translate(912.4,659.5) rotate(-90) scale(1.07,1)" font-size="14.4" text-anchor="end">5/21</text>
<text transform="translate(926.6,659.5) rotate(-90) scale(1.07,1)" font-size="14.4" text-anchor="end">5/22</text>
<text transform="translate(940.8,659.5) rotate(-90) scale(1.07,1)" font-size="14.4" text-anchor="end">5/23</text>
<text transform="translate(955.0,659.5) rotate(-90) scale(1.07,1)" font-size="14.4" text-anchor="end">5/24</text>
<text transform="translate(969.1,659.5) rotate(-90) scale(1.07,1)" font-size="14.4" text-anchor="end">5/25</text>
<text transform="translate(983.3,659.5) rotate(-90) scale(1.07,1)" font-size="14.4" text-anchor="end">5/26</text>
<text transform="translate(997.5,659.5) rotate(-90) scale(1.07,1)" font-size="14.4" text-anchor="end">5/27</text>
<text transform="translate(1011.7,659.5) rotate(-90) scale(1.07,1)" font-size="14.4" text-anchor="end">5/28</text>
<text transform="translate(1025.9,659.5) rotate(-90) scale(1.07,1)" font-size="14.4" text-anchor="end">5/29</text>
<text transform="translate(1040.1,659.5) rotate(-90) scale(1.07,1)" font-size="14.4" text-anchor="end">5/30</text>
<text transform="translate(1054.3,659.5) rotate(-90) scale(1.07,1)" font-size="14.4" text-anchor="end">5/31</text>
<text transform="translate(1068.4,659.5) rotate(-90) scale(1.07,1)" font-size="14.4" text-anchor="end">6/1</text>
<text transform="translate(1082.6,659.5) rotate(-90) scale(1.07,1)" font-size="14.4" text-anchor="end">6/2</text>
<text transform="translate(1096.8,659.5) rotate(-90) scale(1.07,1)" font-size="14.4" text-anchor="end">6/3</text>
<text transform="translate(1111.0,659.5) rotate(-90) scale(1.07,1)" font-size="14.4" text-anchor="end">6/4</text>
<text transform="translate(1125.2,659.5) rotate(-90) scale(1.07,1)" font-size="14.4" text-anchor="end">6/5</text>
<text transform="translate(1139.4,659.5) rotate(-90) scale(1.07,1)" font-size="14.4" text-anchor="end">6/6</text>
<text transform="translate(1153.6,659.5) rotate(-90) scale(1.07,1)" font-size="14.4" text-anchor="end">6/7</text>
<text transform="translate(1167.8,659.5) rotate(-90) scale(1.07,1)" font-size="14.4" text-anchor="end">6/8</text>
<text transform="translate(1181.9,659.5) rotate(-90) scale(1.07,1)" font-size="14.4" text-anchor="end">6/9</text>
<text transform="translate(1196.1,659.5) rotate(-90) scale(1.07,1)" font-size="14.4" text-anchor="end">6/10</text>
<text transform="translate(1210.3,659.5) rotate(-90) scale(1.07,1)" font-size="14.4" text-anchor="end">6/11</text>
<text transform="translate(1224.5,659.5) rotate(-90) scale(1.07,1)" font-size="14.4" text-anchor="end">6/12</text>
<text transform="translate(1238.7,659.5) rotate(-90) scale(1.07,1)" font-size="14.4" text-anchor="end">6/13</text>
<text transform="translate(1252.9,659.5) rotate(-90) scale(1.07,1)" font-size="14.4" text-anchor="end">6/14</text>
<text transform="translate(1267.1,659.5) rotate(-90) scale(1.07,1)" font-size="14.4" text-anchor="end">6/15</text>
<text x="182" y="487.8" font-size="19.2" textLength="317.5" lengthAdjust="spacingAndGlyphs">Completed tests external labs (daily)</text>
<text x="182" y="519.8" font-size="19.2" textLength="250.5" lengthAdjust="spacingAndGlyphs">Completed tests MDH (daily)</text>
<text x="1127.5" y="340.8" font-size="17" text-anchor="middle" textLength="250.5" lengthAdjust="spacingAndGlyphs">Due to delays in deduplication of</text>
<text x="1126.5" y="363.8" font-size="17" text-anchor="middle" textLength="261" lengthAdjust="spacingAndGlyphs">results data are subject to change.</text>
<text class="b" x="694.8" y="712" font-size="19" text-anchor="middle" textLength="202" lengthAdjust="spacingAndGlyphs">Date Reported to MDH</text>
<text class="b" transform="translate(30,316.7) rotate(-90)" font-size="21.5" text-anchor="middle" textLength="411.5" lengthAdjust="spacingAndGlyphs">Approximate Number of Completed Tests</text>
</g>
</svg></body></html>
